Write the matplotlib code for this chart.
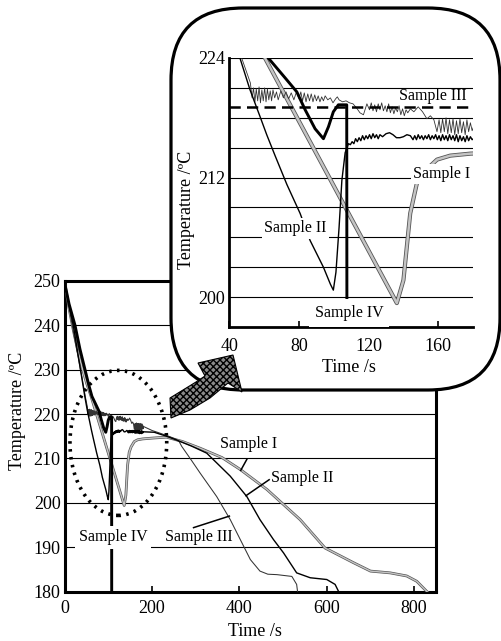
import numpy as np
import matplotlib.pyplot as plt
from matplotlib.patches import FancyBboxPatch, Ellipse, Polygon

plt.rcParams['font.family'] = ['Liberation Serif', 'DejaVu Serif']
plt.rcParams['font.size'] = 13

# --- DATA ---
# Sample I (grey double line)
t_s1 = [0, 10, 20, 30, 40, 50, 60.4, 136.2, 140, 143.9, 147.7, 152, 159.3, 166.9,
        178.4, 203, 233, 270, 310, 360, 402, 463, 539, 596, 661, 700, 745, 783,
        806, 829, 840]
T_s1 = [249.5, 243.8, 238.8, 234.3, 230.4, 227.0, 224.0, 199.4, 201.7, 208.4, 211.4,
        212.6, 213.8, 214.2, 214.4, 214.6, 214.8, 213.8, 212.3, 210.2, 207.5, 203.0,
        196.2, 189.8, 186.5, 184.6, 184.2, 183.5, 182.3, 180.0, 179.0]

# Sample II (black line)
t_s2 = [0, 20, 46, 51.8, 57.6, 61.4, 66.2, 73, 80.6, 86.3, 94, 98, 99.7, 101.2, 103,
        104.6, 106.5, 108.4,
        109.5, 110.5, 111.5, 112.5, 113.5, 114.5, 115.5, 116.5, 117.5, 118.5, 119.5,
        120.5, 121.5, 122.5, 123.5, 124.5, 125.5, 126.5, 128, 130, 132, 134, 136, 138,
        140, 142, 144, 145.5, 146.5, 147.5, 148.5, 149.5, 150.5, 151.5, 152.5, 153.5,
        154.5, 155.5, 156.5, 157.5, 158.5, 159.5, 160.5, 161.5, 162.5, 163.5, 164.5,
        165.5, 166.5, 167.5, 168.5, 169.5, 170.5, 171.5, 172.5, 173.5, 174.5, 175.5,
        176.5, 177.5, 178.5, 179.5, 181,
        205, 233, 260, 290, 325, 350, 379, 417, 447, 478, 501, 531, 562, 600, 619,
        627, 630]
T_s2 = [249.5, 239.8, 224.0, 220.8, 218.1, 216.3, 214.2, 211.3, 208.4, 205.7, 203.0,
        201.3, 200.7, 202.5, 207.0, 211.7, 214.5, 215.4,
        215.3, 215.6, 215.4, 215.9, 215.6, 216.0, 215.7, 216.2, 215.8, 216.2, 215.9,
        216.3, 215.9, 216.4, 216.0, 216.3, 215.9, 216.3, 216.1, 216.4, 216.5, 216.3,
        216.0, 216.0, 216.1, 216.3, 216.2, 215.8, 216.2, 215.8, 216.3, 215.9, 216.2,
        215.8, 216.2, 215.9, 216.3, 215.8, 216.2, 215.9, 216.3, 215.8, 216.2, 215.7,
        216.3, 215.8, 216.2, 215.7, 216.3, 215.8, 216.2, 215.7, 216.3, 215.6, 216.2,
        215.7, 216.1, 215.6, 216.2, 215.7, 216.1, 215.8, 216.0,
        215.9, 215.0, 214.0, 212.8, 211.2, 208.8, 206.0, 201.4, 196.2, 191.7, 188.7,
        184.2, 183.1, 182.7, 181.6, 180.0, 179.0]

# Sample III (thin noisy line)
t_s3 = [0, 20, 40, 47, 52, 53, 53.8, 54.6, 55.4, 56.2, 57, 57.8, 58.6, 59.4, 60.2, 61,
        61.8, 62.6, 63.4, 64.2, 65, 66, 67, 68, 69.5, 71, 72.5, 74, 75.5, 77, 78.5, 80,
        81, 82, 83, 84, 85, 86, 87, 88, 89, 90, 91, 92, 93, 94, 95, 96.5, 98, 99.5, 101,
        102, 103, 105, 107, 109, 111, 113, 115, 117, 119, 120.5, 121.5, 122.5, 123.5,
        124.5, 125.5, 126.5, 127.5, 128.5, 129.5, 130.5, 131.5, 132.5, 133.5, 134.5,
        135.5, 136.5, 137.5, 138.5, 139.5, 140.5, 141.5, 142.5, 144, 146, 148.5, 151,
        153.5, 155.5, 157.5, 159.3, 160.5, 161.5, 162.5, 163.5, 164.5, 165.5, 166.5,
        167.5, 168.5, 169.5, 170.5, 171.5, 172.5, 173.5, 174.5, 175.5, 176.5, 177.5,
        178.5, 179.5, 180.5,
        200, 218, 241, 255, 262, 268, 290, 310, 330, 348, 379, 402, 425, 447, 465, 486,
        520, 531, 533, 535]
T_s3 = [249.5, 238.5, 228.0, 224.0, 221.5, 220.0, 221.0, 219.6, 220.9, 219.7, 221.1,
        219.5, 220.8, 219.7, 221.0, 219.6, 220.9, 219.8, 220.7, 219.7, 220.8, 220.0,
        220.6, 219.8, 220.7, 220.0, 220.6, 219.9, 220.5, 219.8, 220.6, 219.9, 220.6,
        219.7, 220.5, 219.6, 220.4, 219.7, 220.4, 219.6, 220.3, 219.7, 220.2, 219.6,
        220.1, 219.7, 220.2, 219.8, 220.0, 219.5, 219.9, 220.1, 219.8, 219.6, 219.7,
        219.5, 219.4, 219.0, 218.5, 218.3, 219.4, 218.8, 219.5, 218.7, 219.3, 218.6,
        219.4, 218.8, 219.5, 218.7, 219.2, 218.6, 219.4, 218.5, 219.1, 218.4, 219.0,
        218.6, 219.2, 218.3, 218.9, 218.2, 218.8, 218.5, 218.9, 218.6, 219.1, 218.6,
        217.9, 218.2, 217.8, 216.6, 217.8, 216.5, 217.9, 216.6, 218.0, 216.4, 217.8,
        216.5, 217.9, 216.3, 217.7, 216.4, 217.9, 216.5, 217.6, 216.3, 217.8, 216.6,
        217.5, 216.7, 217.2,
        216.3, 215.7, 214.9, 214.3, 213.8, 212.7, 209.6, 206.7, 203.9, 201.4, 196.2,
        191.7, 187.2, 184.6, 183.9, 183.8, 183.4, 181.6, 180.0, 179.0]

# Sample IV (thick black line)
t_s4 = [0, 10, 23.6, 35, 46.5, 55, 62.3, 72, 78.7, 83.5, 89.2, 94, 96.9, 99.7, 102.6,
        107.4, 107.6]
T_s4 = [249.5, 244.8, 240.0, 234.6, 230.0, 226.6, 224.0, 222.0, 220.6, 218.8, 216.9,
        215.9, 217.1, 218.6, 219.3, 219.3, 178.0]

main_yticks = [180, 190, 200, 210, 220, 230, 240, 250]
main_xticks = [0, 200, 400, 600, 800]
inset_yticks = [200, 203, 206, 209, 212, 215, 218, 221, 224]
inset_ylabels = ['200', '', '', '', '212', '', '', '', '224']
inset_xticks = [40, 80, 120, 160]
dashed_level = 219.05

W, H = 502, 641
fig = plt.figure(figsize=(W / 100, H / 100), dpi=100)


def draw_samples(ax, edge, core, thin):
    ax.plot(t_s1, T_s1, color='#555555', lw=edge, solid_joinstyle='round', zorder=3)
    ax.plot(t_s1, T_s1, color='#c4c4c4', lw=core, solid_joinstyle='round', zorder=3)
    ax.plot(t_s3, T_s3, color='#333333', lw=thin, zorder=4)
    ax.plot(t_s2, T_s2, color='black', lw=1.0, zorder=5)
    ax.plot(t_s4, T_s4, color='black', lw=2.1, zorder=6)


# --- main plot ---
ax = fig.add_axes([64.7 / W, 1 - 591.5 / H, (436 - 64.7) / W, (591.5 - 281) / H], zorder=1)
draw_samples(ax, 2.0, 1.0, 0.75)
ax.set_xlim(0, 850)
ax.set_ylim(180, 250)
ax.set_xticks(main_xticks)
ax.set_yticks(main_yticks)
for y in main_yticks[1:-1]:
    ax.axhline(y, color='black', lw=0.8, zorder=1)
for s in ax.spines.values():
    s.set_linewidth(2.2)
ax.tick_params(axis='x', direction='in', length=4, width=1.2, pad=6)
ax.tick_params(axis='y', length=0, pad=3)

ax.add_patch(Ellipse((122.8, 213.5), 221.5, 32.7, fill=False, color='black', lw=2.6,
                     linestyle=(0, (0.7, 1.5)), zorder=7))

bb = dict(facecolor='white', edgecolor='none', pad=2.5)
ax.text(110.8, 192.2, 'Sample IV', ha='center', va='center', fontsize=11.5, bbox=bb, zorder=8)
ax.text(308, 192.2, 'Sample III', ha='center', va='center', fontsize=11.5, zorder=8)
ax.plot([295, 377], [194.4, 197.0], color='black', lw=1.1, zorder=8)
ax.text(420.6, 213.2, 'Sample I', ha='center', va='center', fontsize=11.5, zorder=8)
ax.plot([417, 403], [209.8, 207.3], color='black', lw=1.1, zorder=8)
ax.text(543, 205.5, 'Sample II', ha='center', va='center', fontsize=11.5, zorder=8)
ax.plot([468, 415], [205.2, 201.6], color='black', lw=1.1, zorder=8)

fig.text(18 / W, 1 - 411 / H, 'Temperature /ºC', rotation=90, ha='center', va='center')
fig.text(255 / W, 1 - 632 / H, 'Time /s', ha='center', va='center')

# --- rounded box and arrow (pixel coordinates) ---
ov = fig.add_axes([0, 0, 1, 1], zorder=2)
ov.set_xlim(0, W)
ov.set_ylim(H, 0)
ov.set_facecolor('none')
ov.axis('off')
ov.add_patch(FancyBboxPatch((171, 8), 329, 382, boxstyle='round,pad=0,rounding_size=72',
                            facecolor='white', edgecolor='black', lw=2.3))
arrow_pts = [(170, 398), (183, 390), (196, 382), (205, 376), (198, 363), (233, 355),
             (242, 392), (228, 383), (210, 398), (190, 410), (171, 418)]
ov.add_patch(Polygon(arrow_pts, closed=True, facecolor='#8a8a8a', edgecolor='black',
                     hatch='xxxxx', lw=0.8))

# --- inset ---
ax2 = fig.add_axes([229.5 / W, 1 - 327 / H, (473 - 229.5) / W, (327 - 58) / H], zorder=3)
ax2.set_facecolor('none')
draw_samples(ax2, 3.0, 1.8, 0.6)
ax2.axhline(dashed_level, color='black', lw=1.8, linestyle=(0, (4.5, 2.5)), zorder=7)
ax2.set_xlim(40, 180)
ax2.set_ylim(197, 224)
ax2.set_yticks(inset_yticks)
ax2.set_yticklabels(inset_ylabels)
ax2.set_xticks(inset_xticks)
for y in inset_yticks:
    ax2.axhline(y, color='black', lw=0.8, zorder=1)
ax2.spines['top'].set_visible(False)
ax2.spines['right'].set_visible(False)
ax2.spines['left'].set_linewidth(2.0)
ax2.spines['bottom'].set_linewidth(2.0)
ax2.tick_params(axis='x', direction='in', length=4, width=1.2, pad=8)
ax2.tick_params(axis='y', length=0, pad=3)

ax2.text(157.1, 220.15, 'Sample III', ha='center', va='center', fontsize=11.5, zorder=8)
ax2.text(162.1, 212.35, 'Sample I', ha='center', va='center', fontsize=11.5,
         bbox=dict(facecolor='white', edgecolor='none', pad=1.5), zorder=8)
ax2.text(78, 206.9, 'Sample II', ha='center', va='center', fontsize=11.5,
         bbox=dict(facecolor='white', edgecolor='none', pad=2), zorder=8)
ax2.text(108.8, 198.4, 'Sample IV', ha='center', va='center', fontsize=11.5,
         bbox=dict(facecolor='white', edgecolor='none', pad=4), zorder=8)

fig.text(187 / W, 1 - 210 / H, 'Temperature /ºC', rotation=90, ha='center', va='center')
fig.text(349 / W, 1 - 367 / H, 'Time /s', ha='center', va='center')

fig.savefig('out.png', dpi=100)
